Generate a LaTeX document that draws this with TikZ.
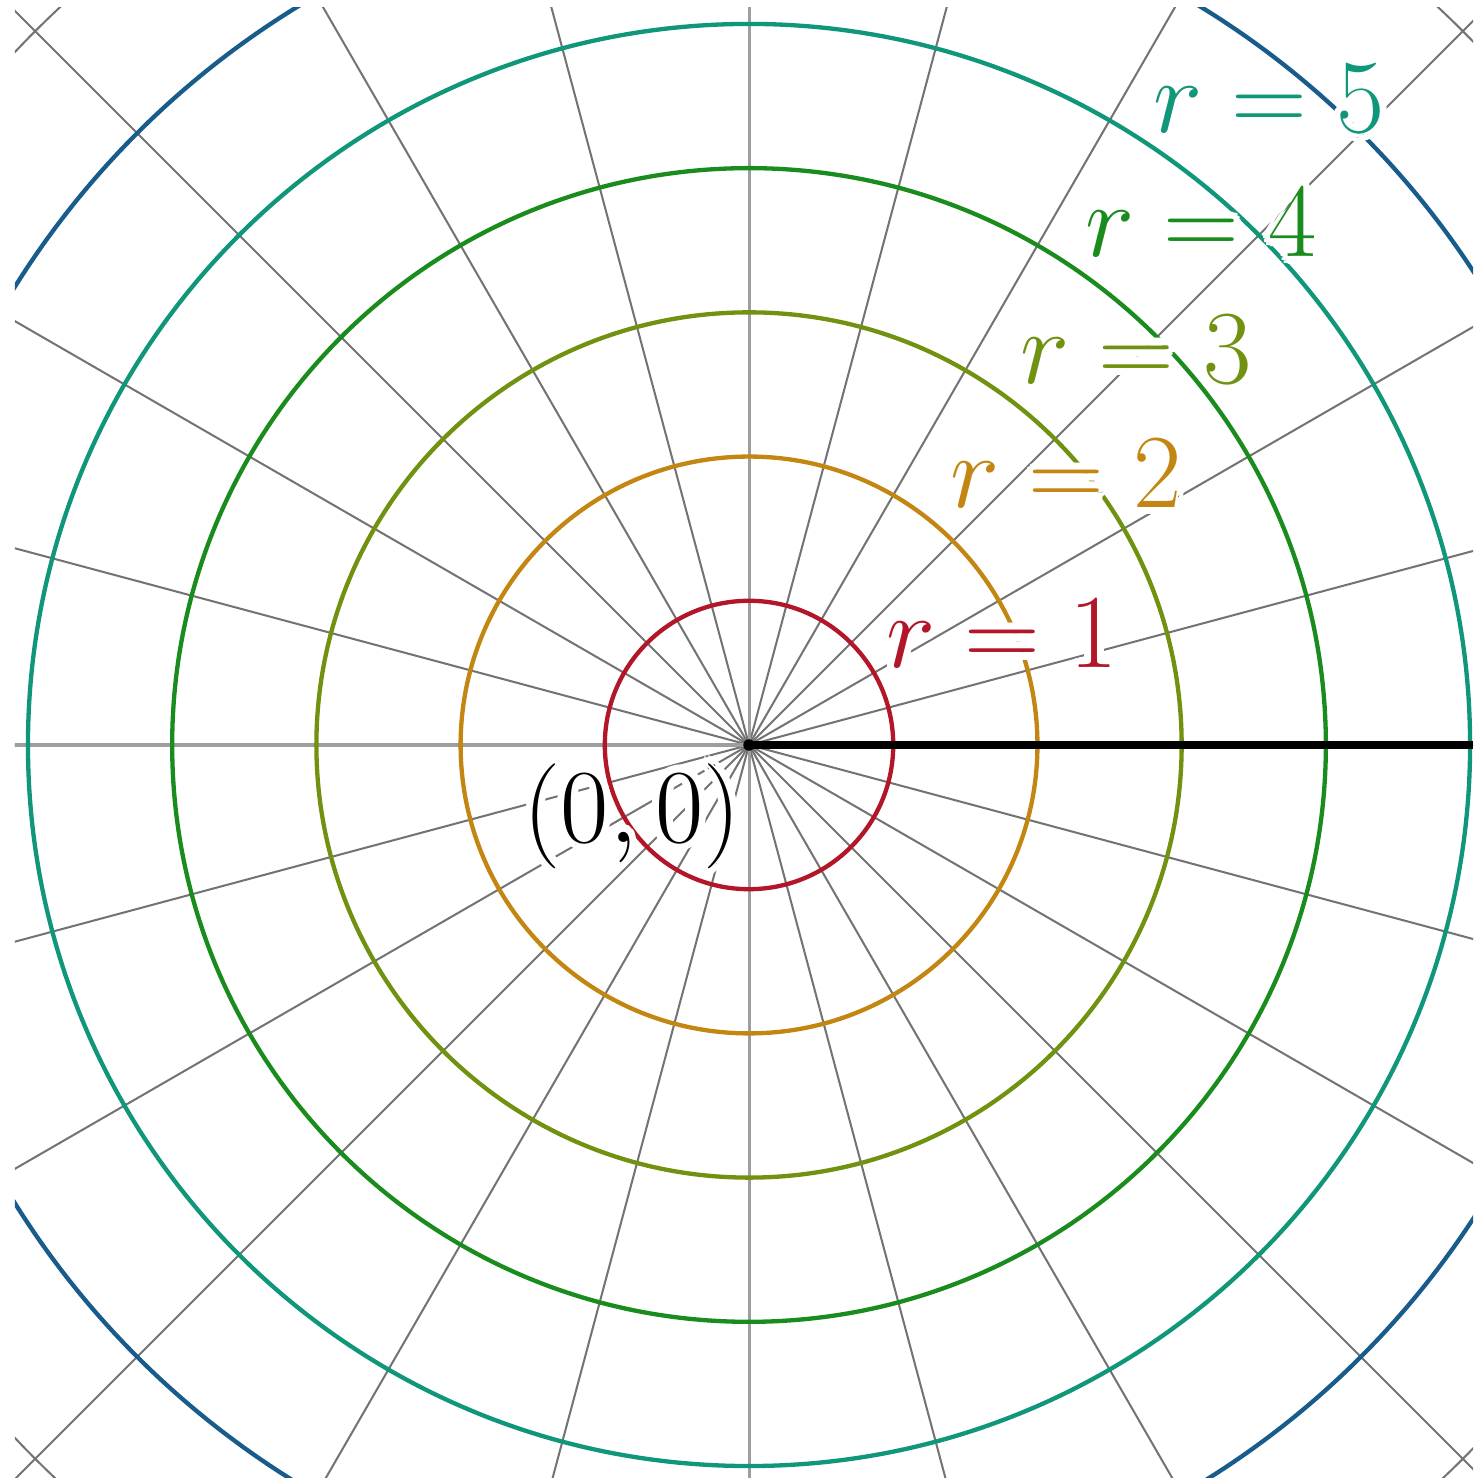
\documentclass[tikz,border=0pt]{standalone}
\definecolor{cOne}{RGB}{178,22,40}
\definecolor{cTwo}{RGB}{196,134,18}
\definecolor{cThree}{RGB}{112,146,16}
\definecolor{cFour}{RGB}{26,140,30}
\definecolor{cFive}{RGB}{16,150,120}
\definecolor{cSix}{RGB}{24,92,140}
\newcommand{\halolabel}[4]{%
  \foreach \hd in {0,30,...,330}
    \node[lbl, text=white, shift={(\hd:1.4pt)}] at (#2) {#4};
  \node[lbl, text=#3] (#1) at (#2) {#4};
}
\begin{document}
\begin{tikzpicture}[x=1cm,y=1cm,
  spoke/.style={draw=black!55, line width=0.4pt},
  axisline/.style={draw=black!38, line width=0.6pt},
  ring/.style={line width=0.85pt},
  lbl/.style={font=\fontsize{21.1}{25}\selectfont, anchor=base, inner sep=0pt}]
\useasboundingbox (-5.194,-5.083) rectangle (5.021,5.166);
\coordinate (O) at (0,0);
\coordinate (E) at (5.021,0);
\begin{scope}
  \clip (-5.090,-5.083) rectangle (5.021,5.111);
  \foreach \a in {15,30,...,345} \draw[spoke] (O) -- (\a:8);
  \foreach \a in {0,90,180,270} \draw[axisline] (O) -- (\a:8);
  \draw[spoke] (O) circle (7);
  \draw[ring, cOne] (O) circle (1);
  \draw[ring, cTwo] (O) circle (2);
  \draw[ring, cThree] (O) circle (3);
  \draw[ring, cFour] (O) circle (4);
  \draw[ring, cFive] (O) circle (5);
  \draw[ring, cSix] (O) circle (6);
  \draw[line width=1.6pt] (O) -- (E);
\end{scope}
\fill (O) circle (0.04);
\halolabel{l1}{1.755,0.534}{cOne}{$r=1$}
\halolabel{l2}{2.198,1.644}{cTwo}{$r=2$}
\halolabel{l3}{2.684,2.510}{cThree}{$r=3$}
\halolabel{l4}{3.135,3.384}{cFour}{$r=4$}
\halolabel{l5}{3.606,4.244}{cFive}{$r=5$}
\halolabel{origin}{-0.811,-0.673}{black}{$(0,0)$}
\end{tikzpicture}
\end{document}
